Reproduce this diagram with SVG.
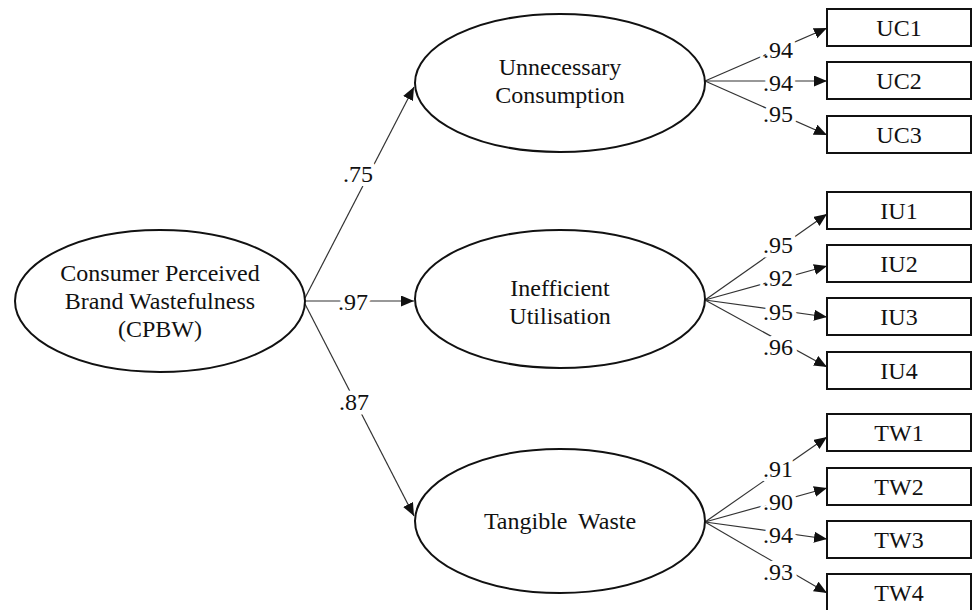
<svg xmlns="http://www.w3.org/2000/svg" width="972" height="610" viewBox="0 0 972 610">
<style>
text{font-family:"Liberation Serif","Times New Roman",serif;font-size:24px;fill:#111;text-anchor:middle}
.ell{fill:#fff;stroke:#111;stroke-width:2}
.box{fill:#fff;stroke:#111;stroke-width:2}
.ln{stroke:#333;stroke-width:1.2;fill:none;marker-end:url(#ah)}
.lbl{font-size:24px;stroke:#fff;stroke-width:9;paint-order:stroke;stroke-linejoin:round}
</style>
<defs>
<marker id="ah" markerUnits="userSpaceOnUse" markerWidth="14" markerHeight="12" refX="13" refY="5.5" orient="auto">
<path d="M0,0 L13,5.5 L0,11 z" fill="#111"/>
</marker>
</defs>
<rect width="972" height="610" fill="#fff"/>
<g id="connectors">
<line class="ln" x1="305" y1="298" x2="414" y2="87"/>
<line class="ln" x1="305" y1="301" x2="414" y2="301"/>
<line class="ln" x1="305" y1="304" x2="414" y2="516"/>
<line class="ln" x1="705" y1="81" x2="827" y2="28"/>
<line class="ln" x1="705" y1="81" x2="827" y2="81"/>
<line class="ln" x1="705" y1="81" x2="827" y2="135"/>
<line class="ln" x1="705" y1="300" x2="827" y2="214"/>
<line class="ln" x1="705" y1="300" x2="827" y2="266"/>
<line class="ln" x1="705" y1="300" x2="827" y2="317"/>
<line class="ln" x1="705" y1="300" x2="827" y2="367"/>
<line class="ln" x1="705" y1="522" x2="827" y2="437"/>
<line class="ln" x1="705" y1="522" x2="827" y2="488"/>
<line class="ln" x1="705" y1="522" x2="827" y2="539"/>
<line class="ln" x1="705" y1="522" x2="827" y2="593"/>
<text class="lbl" x="358" y="182">.75</text>
<text class="lbl" x="353" y="310">.97</text>
<text class="lbl" x="354" y="410">.87</text>
<text class="lbl" x="778" y="58">.94</text>
<text class="lbl" x="778" y="91">.94</text>
<text class="lbl" x="778" y="122">.95</text>
<text class="lbl" x="778" y="253">.95</text>
<text class="lbl" x="778" y="286">.92</text>
<text class="lbl" x="778" y="320">.95</text>
<text class="lbl" x="778" y="355">.96</text>
<text class="lbl" x="778" y="477">.91</text>
<text class="lbl" x="778" y="510">.90</text>
<text class="lbl" x="778" y="543">.94</text>
<text class="lbl" x="778" y="580">.93</text>
</g>
<g id="CPBW">
<ellipse class="ell" cx="160" cy="301" rx="145" ry="71"/>
<text x="160" y="281">Consumer Perceived</text>
<text x="160" y="309">Brand Wastefulness</text>
<text x="160" y="337">(CPBW)</text>
</g>
<g id="UC">
<ellipse class="ell" cx="560" cy="83" rx="145" ry="69"/>
<text x="560" y="75">Unnecessary</text>
<text x="560" y="103">Consumption</text>
</g>
<g id="IU">
<ellipse class="ell" cx="560" cy="299" rx="145" ry="69"/>
<text x="560" y="296">Inefficient</text>
<text x="560" y="324">Utilisation</text>
</g>
<g id="TW">
<ellipse class="ell" cx="560" cy="521" rx="145" ry="72"/>
<text x="560" y="529" word-spacing="5">Tangible Waste</text>
</g>
<g id="UC1"><rect class="box" x="827" y="9" width="144" height="37"/><text x="899" y="36">UC1</text></g>
<g id="UC2"><rect class="box" x="827" y="62" width="144" height="37"/><text x="899" y="89">UC2</text></g>
<g id="UC3"><rect class="box" x="827" y="116" width="144" height="37"/><text x="899" y="143">UC3</text></g>
<g id="IU1"><rect class="box" x="827" y="192" width="144" height="37"/><text x="899" y="219">IU1</text></g>
<g id="IU2"><rect class="box" x="827" y="245" width="144" height="37"/><text x="899" y="272">IU2</text></g>
<g id="IU3"><rect class="box" x="827" y="298" width="144" height="37"/><text x="899" y="325">IU3</text></g>
<g id="IU4"><rect class="box" x="827" y="352" width="144" height="37"/><text x="899" y="379">IU4</text></g>
<g id="TW1"><rect class="box" x="827" y="414" width="144" height="37"/><text x="899" y="441">TW1</text></g>
<g id="TW2"><rect class="box" x="827" y="468" width="144" height="37"/><text x="899" y="495">TW2</text></g>
<g id="TW3"><rect class="box" x="827" y="521" width="144" height="37"/><text x="899" y="548">TW3</text></g>
<g id="TW4"><rect class="box" x="827" y="574" width="144" height="37"/><text x="899" y="601">TW4</text></g>
</svg>
